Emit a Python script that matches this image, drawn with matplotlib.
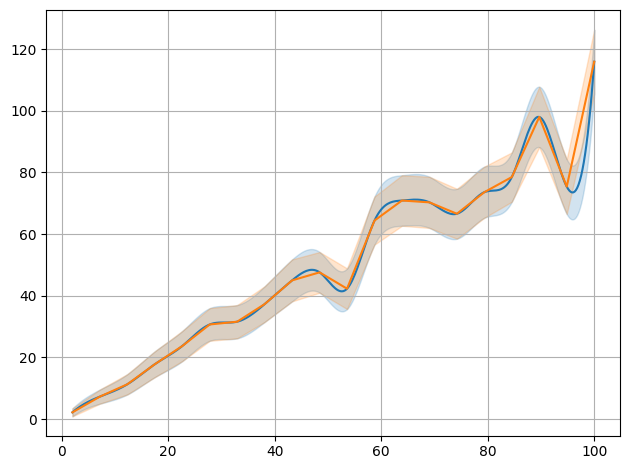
import matplotlib
matplotlib.use("Agg")
import matplotlib.pyplot as plt
import numpy as np

# knots (20 points between 2 and 100)
x_knots = np.linspace(2, 100, 20)
y_knots = [2.2, 7.3, 11.3, 17.8, 23.7, 30.7, 31.6, 37.3, 45.0, 47.6,
           42.3, 64.4, 70.9, 70.3, 66.6, 73.6, 78.5, 98.0, 75.4, 115.9]
y_err = [1.3, 2.3, 3.3, 4.2, 4.9, 5.3, 5.4, 5.8, 6.8, 6.6,
         6.6, 7.8, 8.2, 8.3, 8.1, 8.3, 8.0, 9.8, 8.9, 10.4]


def spline(x, y, xs):
    # cubic spline, not-a-knot ends
    x = np.asarray(x, float)
    y = np.asarray(y, float)
    n = len(x)
    h = np.diff(x)
    A = np.zeros((n, n))
    b = np.zeros(n)
    for i in range(1, n - 1):
        A[i, i - 1] = h[i - 1]
        A[i, i] = 2 * (h[i - 1] + h[i])
        A[i, i + 1] = h[i]
        b[i] = 6 * ((y[i + 1] - y[i]) / h[i] - (y[i] - y[i - 1]) / h[i - 1])
    A[0, 0], A[0, 1], A[0, 2] = h[1], -(h[0] + h[1]), h[0]
    A[-1, -3], A[-1, -2], A[-1, -1] = h[-1], -(h[-2] + h[-1]), h[-2]
    M = np.linalg.solve(A, b)
    idx = np.clip(np.searchsorted(x, xs) - 1, 0, n - 2)
    x0, x1 = x[idx], x[idx + 1]
    hh = x1 - x0
    return (M[idx] * (x1 - xs) ** 3 / (6 * hh)
            + M[idx + 1] * (xs - x0) ** 3 / (6 * hh)
            + (y[idx] / hh - M[idx] * hh / 6) * (x1 - xs)
            + (y[idx + 1] / hh - M[idx + 1] * hh / 6) * (xs - x0))


y = np.array(y_knots)
e = np.array(y_err)
xs = np.linspace(x_knots[0], x_knots[-1], 400)

fig, ax = plt.subplots(figsize=(6.3, 4.7), dpi=100)

# smooth version
ax.fill_between(xs, spline(x_knots, y - e, xs), spline(x_knots, y + e, xs),
                color="C0", alpha=0.2)
ax.plot(xs, spline(x_knots, y, xs), color="C0")

# linear version
ax.fill_between(x_knots, y - e, y + e, color="C1", alpha=0.2)
ax.plot(x_knots, y, color="C1")

ax.grid(True)
fig.subplots_adjust(left=0.0735, right=0.9846, top=0.978, bottom=0.073)
fig.savefig("out.png")
